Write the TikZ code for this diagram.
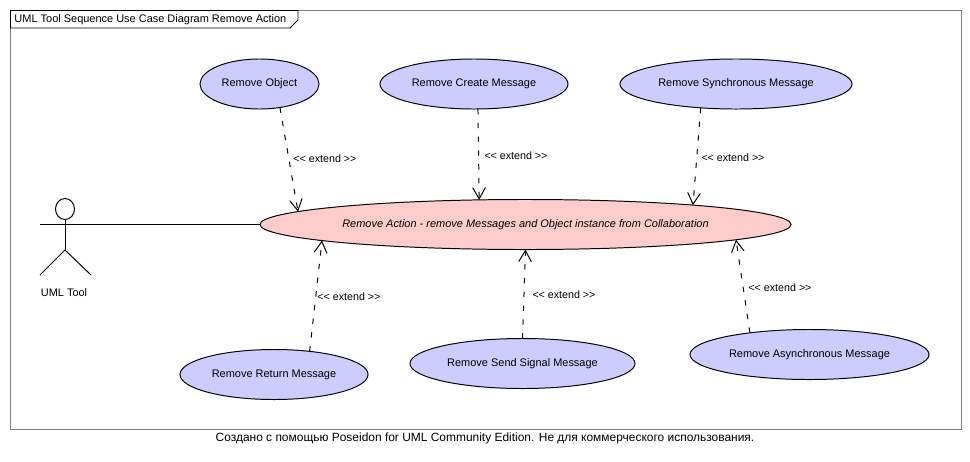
\documentclass[tikz,border=0pt]{standalone}
\usepackage{fontspec}
\setmainfont{Liberation Sans}
\usetikzlibrary{calc,positioning,arrows.meta,shapes.geometric}
\definecolor{ucblue}{HTML}{CCCCFF}
\definecolor{ucpink}{HTML}{FFCCCC}
\definecolor{framegray}{HTML}{808080}
\tikzset{
	usecase/.style={ellipse,draw,fill=ucblue,minimum height=1.25cm,inner sep=0pt,outer sep=0pt,font=\fontsize{7.8}{9}\selectfont},
	extendarrow/.style={draw,dash pattern=on 5.5*0.7pt off 8.5*0.7pt,-{Straight Barb[length=8pt,width=9pt,line width=0.7pt]}},
	extendlabel/.style={anchor=west,inner sep=0pt,font=\fontsize{7.6}{9}\selectfont},
	plainlabel/.style={inner sep=0pt,font=\fontsize{7.8}{9}\selectfont}
}
\begin{document}
\begin{tikzpicture}[x=0.025cm,y=-0.025cm,line width=0.7pt]
	\useasboundingbox (0,0) rectangle (970,461);
	\draw[framegray] (10.5,10.5) rectangle (961,429.5);
	\draw (10.5,28) -- (10.5,10.5) -- (298,10.5) -- (298,20) -- (290,28) -- cycle;
	\node[plainlabel,anchor=west] at (14,20) (title) {UML Tool Sequence Use Case Diagram Remove Action};
	% actor
	\node[ellipse,draw,minimum width=0.475cm,minimum height=0.525cm,inner sep=0pt,outer sep=0pt] at (65,209) (head) {};
	\coordinate (arm) at (40,224.5);
	\coordinate (hip) at (65,250);
	\coordinate (footl) at (40,275);
	\coordinate (footr) at (91,275);
	\draw (head.south) -- (hip);
	\draw (footl) -- (hip) -- (footr);
	\node[plainlabel] at (64,293) (tool) {UML Tool};
	% use cases
	\node[usecase,fill=ucpink,minimum width=13.275cm] at (525.5,224.5) (action) {\textit{Remove Action - remove Messages and Object instance from Collaboration}};
	\node[usecase,minimum width=2.975cm] at (259.5,84) (object) {Remove Object};
	\node[usecase,minimum width=4.7cm] at (474,84) (create) {Remove Create Message};
	\node[usecase,minimum width=5.8cm] at (736,84) (sync) {Remove Synchronous Message};
	\node[usecase,minimum width=4.7cm] at (274,374.5) (return) {Remove Return Message};
	\node[usecase,minimum width=5.625cm] at (522.5,363.5) (send) {Remove Send Signal Message};
	\node[usecase,minimum width=5.975cm] at (809.5,354.5) (async) {Remove Asynchronous Message};
	\draw (arm) -- (action.west);
	% extend arrows
	\coordinate (tipobject) at ($(action.center)+(-227.5,-12.9)$);
	\coordinate (tipsync) at ($(action.center)+(167.5,-19.4)$);
	\coordinate (tipreturn) at ($(action.center)+(-203.5,16)$);
	\coordinate (tipasync) at ($(action.center)+(210.5,15.2)$);
	\draw[extendarrow] (object.-49) -- (tipobject);
	\draw[extendarrow] (create.-81) -- (action.152.5);
	\draw[extendarrow] (sync.214.8) -- (tipsync);
	\draw[extendarrow] (return.33) -- (tipreturn);
	\draw[extendarrow] (send.north) -- (action.south);
	\draw[extendarrow] (async.160.8) -- (tipasync);
	\node[extendlabel] at (293,158.5) (lobject) {<{}< extend >{}>};
	\node[extendlabel] at (484,155.5) (lcreate) {<{}< extend >{}>};
	\node[extendlabel] at (701,157.5) (lsync) {<{}< extend >{}>};
	\node[extendlabel] at (317,296.5) (lreturn) {<{}< extend >{}>};
	\node[extendlabel] at (532,294.5) (lsend) {<{}< extend >{}>};
	\node[extendlabel] at (748,287.5) (lasync) {<{}< extend >{}>};
	\node[plainlabel,font=\fontsize{8.5}{10}\selectfont] at (485,438) (credit) {Создано с помощью Poseidon for UML Community Edition. Не для коммерческого использования.};
\end{tikzpicture}
\end{document}
